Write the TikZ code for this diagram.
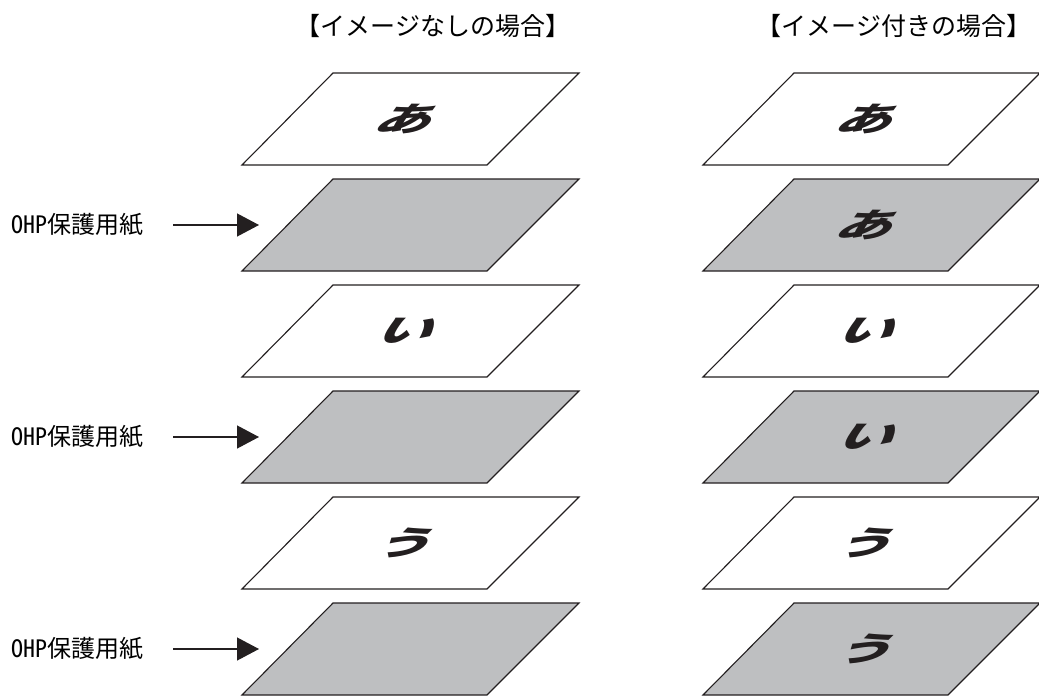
\documentclass[tikz,border=0pt]{standalone}
\usepackage{fontspec}
\usetikzlibrary{arrows.meta}
\newfontfamily\jp{Noto Sans CJK JP}
\newfontfamily\jphw[RawFeature=+hwid]{Noto Sans CJK JP}
\definecolor{sheetgray}{RGB}{190,191,193}
\definecolor{edgecol}{RGB}{35,31,32}
\tikzset{
  sheet/.style={draw=edgecol, line width=1.1pt, line join=miter},
  plain/.style={sheet, fill=white},
  ohp/.style={sheet, fill=sheetgray},
  glyph/.style={font=\jp\bfseries\fontsize{56}{56}\selectfont, text=edgecol, inner sep=0pt,
                xslant=0.75, yscale=0.6, transform shape},
  title/.style={font=\jp\fontsize{25}{25}\selectfont, inner sep=0pt},
  lab/.style={font=\jphw\fontsize{24}{24}\selectfont, inner sep=0pt, anchor=west},
  arr/.style={draw=edgecol, line width=1.3pt, -{Triangle[length=22pt,width=23pt]}}
}
\begin{document}
\begin{tikzpicture}[x=1pt,y=-1pt]
\useasboundingbox (0,0) rectangle (1039,696);
% titles
\node[title] (tleft) at (433,26) {【イメージなしの場合】};
\node[title] (tright) at (894,26) {【イメージ付きの場合】};
% sheets: left column x0=242, right column x0=703
\foreach \col/\x in {L/242, R/703}{
  \foreach \i/\st in {1/plain,2/ohp,3/plain,4/ohp,5/plain,6/ohp}{
    \pgfmathsetmacro{\y}{73+106*(\i-1)}
    \path[\st] (\x+91,\y) -- (\x+337,\y) -- (\x+245,\y+92) -- (\x,\y+92) -- cycle;
    \coordinate (\col\i) at (\x+167,\y+46);
  }
}
% glyphs
\foreach \c/\g in {L1/あ, L3/い, L5/う, R1/あ, R2/あ, R3/い, R4/い, R5/う, R6/う}{
  \begin{scope}[shift={(\c)}]
    \node[glyph] (g\c) at (0,0) {\g};
  \end{scope}
}
% labels and arrows
\foreach \i/\y in {1/225, 2/437, 3/649}{
  \node[lab] (lab\i) at (11,\y) {OHP保護用紙};
  \coordinate (s\i) at (173,\y);
  \coordinate (e\i) at (259,\y);
  \draw[arr] (s\i) -- (e\i);
}
\end{tikzpicture}
\end{document}
